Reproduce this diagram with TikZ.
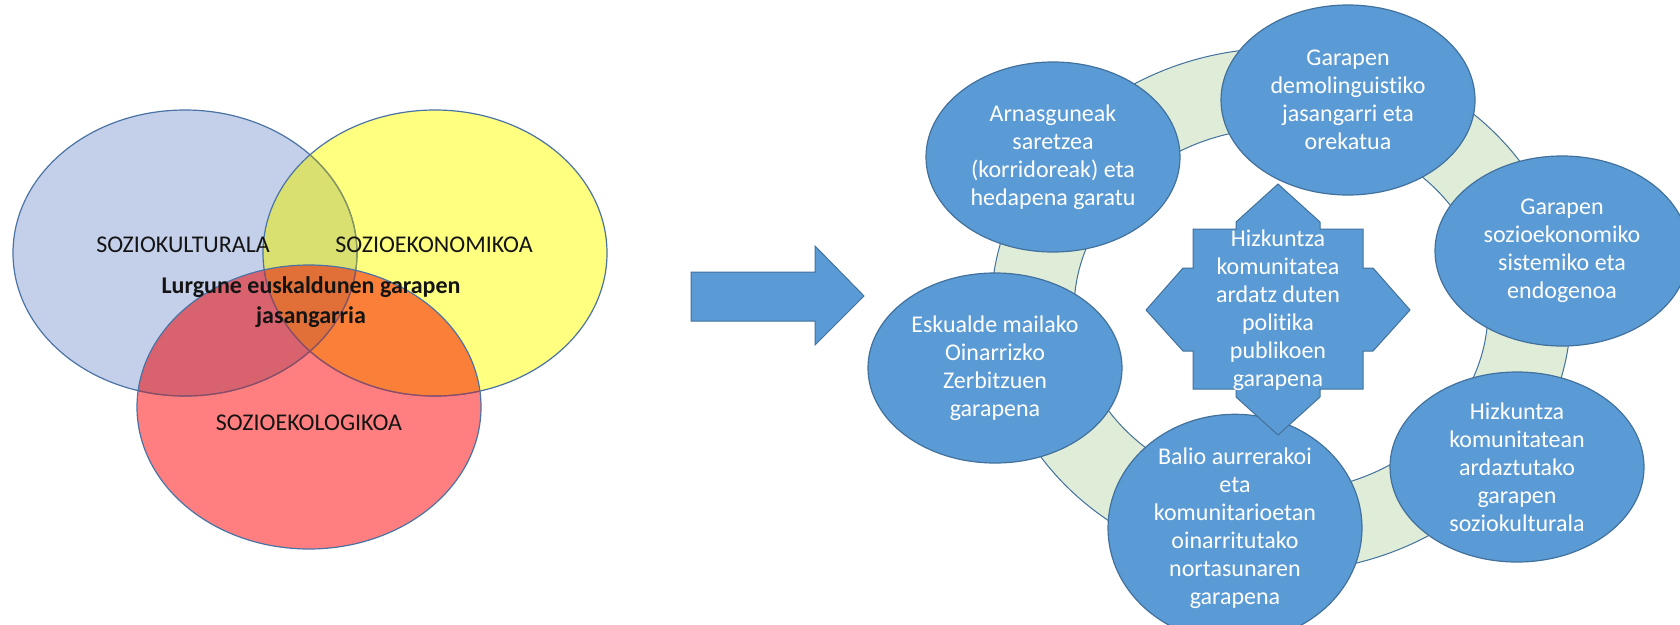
\documentclass[tikz,border=0pt]{standalone}
\usepackage{fontspec}
\setmainfont{Carlito}[Ligatures={NoCommon}]
\usetikzlibrary{shapes.geometric}
\definecolor{vblue}{RGB}{196,208,234}
\definecolor{vyellow}{RGB}{255,255,128}
\definecolor{vred}{RGB}{255,127,128}
\definecolor{vby}{RGB}{217,224,112}
\definecolor{vbr}{RGB}{217,98,111}
\definecolor{vyr}{RGB}{250,128,58}
\definecolor{vbyr}{RGB}{224,112,56}
\definecolor{vline}{RGB}{74,115,165}
\definecolor{vlineY}{RGB}{140,152,84}
\definecolor{vlineR}{RGB}{150,72,92}
\definecolor{obl}{RGB}{91,155,213}
\definecolor{obd}{RGB}{65,113,156}
\definecolor{ringgreen}{RGB}{223,236,216}
\begin{document}
\begin{tikzpicture}[x=1pt,y=-1pt,
  bubble/.style={ellipse, fill=obl, draw=obd, line width=1.2pt,
    minimum width=254pt, minimum height=190pt, inner sep=0pt,
    text=white, align=center, font=\fontsize{24}{28}\selectfont},
  ctext/.style={inner sep=0pt, text=white, align=center, font=\fontsize{24}{28}\selectfont},
  vlabel/.style={inner sep=0pt, text=black!92, align=center, font=\fontsize{24}{30}\selectfont},
  vedge/.style={line width=1.2pt},
  blockshape/.style={fill=obl, draw=obd, line width=1pt, line join=miter}
]
\useasboundingbox (0,0) rectangle (1680,624);
\fill[white] (0,0) rectangle (1680,624);

% ---- Venn diagram ----
\fill[vblue] (185,253) ellipse [x radius=172, y radius=143];
\fill[vyellow] (435,253) ellipse [x radius=172, y radius=143];
\fill[vred] (309,407) ellipse [x radius=172, y radius=142];
\begin{scope}
  \clip (185,253) ellipse [x radius=172, y radius=143];
  \fill[vby] (435,253) ellipse [x radius=172, y radius=143];
  \fill[vbr] (309,407) ellipse [x radius=172, y radius=142];
\end{scope}
\begin{scope}
  \clip (435,253) ellipse [x radius=172, y radius=143];
  \fill[vyr] (309,407) ellipse [x radius=172, y radius=142];
\end{scope}
\begin{scope}
  \clip (185,253) ellipse [x radius=172, y radius=143];
  \clip (435,253) ellipse [x radius=172, y radius=143];
  \fill[vbyr] (309,407) ellipse [x radius=172, y radius=142];
\end{scope}
% outlines (tinted where seen through the later, translucent discs)
\draw[vedge, vline] (185,253) ellipse [x radius=172, y radius=143];
\begin{scope}
  \clip (435,253) ellipse [x radius=172, y radius=143];
  \draw[vedge, vlineY] (185,253) ellipse [x radius=172, y radius=143];
\end{scope}
\draw[vedge, vline] (435,253) ellipse [x radius=172, y radius=143];
\begin{scope}
  \clip (309,407) ellipse [x radius=172, y radius=142];
  \draw[vedge, vlineR] (185,253) ellipse [x radius=172, y radius=143];
  \draw[vedge, vlineR] (435,253) ellipse [x radius=172, y radius=143];
\end{scope}
\draw[vedge, vline] (309,407) ellipse [x radius=172, y radius=142];

\node[vlabel] (kult) at (183,245) {SOZIOKULTURALA};
\node[vlabel] (ekon) at (434,245) {SOZIOEKONOMIKOA};
\node[vlabel] (ekol) at (309,423) {SOZIOEKOLOGIKOA};
\node[vlabel, font=\fontsize{24}{30}\selectfont\bfseries] (core) at (311,302)
  {Lurgune euskaldunen garapen\\jasangarria};

% ---- block arrow ----
\draw[blockshape] (691,272) -- (815,272) -- (815,246) -- (864,296)
  -- (815,345) -- (815,321) -- (691,321) -- cycle;

% ---- ring ----
\fill[ringgreen, even odd rule] (1281,310) ellipse [x radius=290, y radius=262]
  (1281,310) ellipse [x radius=207, y radius=182];
\draw[obd, line width=1pt] (1281,310) ellipse [x radius=290, y radius=262];
\draw[obd, line width=1pt] (1281,310) ellipse [x radius=207, y radius=182];

% ---- bubbles ----
\node[bubble] (arn) at (1053,157) {Arnasguneak\\saretzea\\(korridoreak) eta\\hedapena garatu};
\node[bubble] (demo) at (1348,100) {Garapen\\demolinguistiko\\jasangarri eta\\orekatua};
\node[bubble] (sozek) at (1562,251) {Garapen\\sozioekonomiko\\sistemiko eta\\endogenoa};
\node[bubble] (hizk) at (1517,467) {Hizkuntza\\komunitatean\\ardaztutako\\garapen\\soziokulturala};
\node[bubble] (balio) at (1235,528) {Balio aurrerakoi\\eta\\komunitarioetan\\oinarritutako\\nortasunaren\\garapena};
\node[bubble] (eskual) at (995,368) {Eskualde mailako\\Oinarrizko\\Zerbitzuen\\garapena};

% ---- central shape ----
\draw[blockshape] (1278,184) -- (1320,222) -- (1320,229) -- (1363,229) -- (1363,268)
  -- (1373,268) -- (1410,310) -- (1373,351) -- (1363,351) -- (1363,389) -- (1320,389)
  -- (1320,397) -- (1278,435) -- (1236,397) -- (1236,389) -- (1193,389) -- (1193,351)
  -- (1183,351) -- (1146,310) -- (1183,268) -- (1193,268) -- (1193,229) -- (1236,229)
  -- (1236,222) -- cycle;
\node[ctext] (hub) at (1278,310) {Hizkuntza\\komunitatea\\ardatz duten\\politika\\publikoen\\garapena};
\end{tikzpicture}
\end{document}
